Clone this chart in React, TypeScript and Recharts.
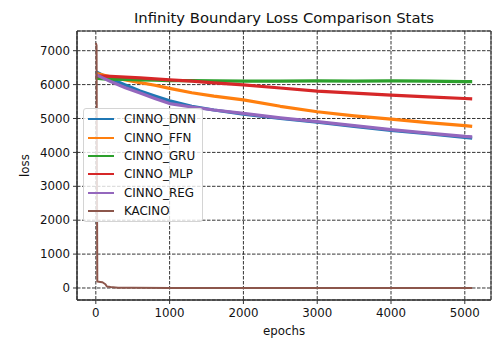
import { LineChart, Line, XAxis, YAxis, CartesianGrid, ReferenceArea, Legend, Label } from 'recharts'

// shared sampling grid for the CINNO runs
const cinnoEpochs = [0, 100, 200, 400, 600, 800, 1000, 1300, 1600, 2000, 2500, 3000, 3500, 4000, 4500, 5000, 5100]

const dnnLoss = [6380, 6270, 6170, 5990, 5810, 5660, 5520, 5360, 5250, 5130, 5000, 4890, 4770, 4650, 4550, 4440, 4420]
const ffnLoss = [6330, 6280, 6230, 6140, 6060, 5980, 5890, 5760, 5660, 5550, 5360, 5200, 5080, 4980, 4880, 4790, 4770]
const gruLoss = [6190, 6170, 6160, 6150, 6140, 6130, 6120, 6115, 6110, 6100, 6100, 6110, 6100, 6110, 6100, 6090, 6090]
const mlpLoss = [6260, 6250, 6240, 6220, 6200, 6170, 6140, 6100, 6050, 5990, 5900, 5810, 5750, 5690, 5640, 5590, 5580]
const regLoss = [6300, 6190, 6090, 5910, 5750, 5590, 5440, 5340, 5250, 5150, 5020, 4910, 4790, 4670, 4570, 4470, 4460]

// KACINO collapses almost immediately, so it gets a denser grid at the start
const kacinoEpochs = [0, 10, 20, 60, 90, 110, 130, 150, 200, 300, 500, 1000, 2000, 3000, 4000, 5000, 5100]
const kacinoLoss = [7230, 7150, 190, 180, 170, 140, 110, 45, 30, 10, 5, 3, 2, 2, 2, 2, 2]

const xTicks = [0, 1000, 2000, 3000, 4000, 5000]
const yTicks = [0, 1000, 2000, 3000, 4000, 5000, 6000, 7000]

const X_DOMAIN: [number, number] = [-255, 5355]
const Y_DOMAIN: [number, number] = [-354, 7581]

const FONT = '"DejaVu Sans", sans-serif'

const series = [
  { name: 'CINNO_DNN', color: '#1f77b4', epochs: cinnoEpochs, loss: dnnLoss, width: 3.2 },
  { name: 'CINNO_FFN', color: '#ff7f0e', epochs: cinnoEpochs, loss: ffnLoss, width: 3.2 },
  { name: 'CINNO_GRU', color: '#2ca02c', epochs: cinnoEpochs, loss: gruLoss, width: 3.2 },
  { name: 'CINNO_MLP', color: '#d62728', epochs: cinnoEpochs, loss: mlpLoss, width: 3.2 },
  { name: 'CINNO_REG', color: '#9467bd', epochs: cinnoEpochs, loss: regLoss, width: 3.2 },
  { name: 'KACINO', color: '#8c564b', epochs: kacinoEpochs, loss: kacinoLoss, width: 2 },
]

function LegendBox() {
  return (
    <div
      style={{
        width: 120,
        height: 114,
        boxSizing: 'border-box',
        border: '1px solid #d4d4d4',
        borderRadius: 3,
        background: 'rgba(255,255,255,0.8)',
        padding: '1px 0 0 4px',
        fontFamily: FONT,
      }}
    >
      {series.map((s) => (
        <div key={s.name} style={{ display: 'flex', alignItems: 'center', height: 18.4 }}>
          <span style={{ width: 26, height: 2, background: s.color, marginRight: 10, flex: 'none' }} />
          <span style={{ fontSize: 11.9, color: '#111', whiteSpace: 'nowrap' }}>{s.name}</span>
        </div>
      ))}
    </div>
  )
}

export default function App() {
  return (
    <div style={{ position: 'absolute', left: 0, top: 0, width: 492, height: 340, background: '#fff', fontFamily: FONT }}>
      <div
        style={{
          position: 'absolute',
          left: 77,
          width: 414,
          top: 8,
          textAlign: 'center',
          fontSize: 14.8,
          lineHeight: '20px',
          color: '#111',
          zIndex: 1,
        }}
      >
        Infinity Boundary Loss Comparison Stats
      </div>
      <LineChart width={492} height={340} margin={{ top: 31, right: 1, bottom: 0, left: 0 }}>
        <CartesianGrid stroke="#000" strokeWidth={0.8} strokeDasharray="3.5 1.5" />
        <XAxis
          type="number"
          dataKey="epoch"
          domain={X_DOMAIN}
          ticks={xTicks}
          allowDataOverflow
          height={40}
          tickSize={4}
          tickMargin={5}
          stroke="#333"
          tick={{ fill: '#111', fontSize: 11.8, fontFamily: FONT }}
        >
          <Label
            content={() => (
              <text x={284} y={335} textAnchor="middle" fill="#111" fontSize={11.8} fontFamily={FONT}>
                epochs
              </text>
            )}
          />
        </XAxis>
        <YAxis
          type="number"
          domain={Y_DOMAIN}
          ticks={yTicks}
          allowDataOverflow
          width={77}
          tickSize={4}
          tickMargin={3}
          stroke="#333"
          tick={{ fill: '#111', fontSize: 11.8, fontFamily: FONT }}
        >
          <Label
            content={() => (
              <text
                x={29}
                y={165.5}
                transform="rotate(-90 29 165.5)"
                textAnchor="middle"
                fill="#111"
                fontSize={11.8}
                fontFamily={FONT}
              >
                loss
              </text>
            )}
          />
        </YAxis>
        {series.map((s) => (
          <Line
            key={s.name}
            name={s.name}
            data={s.epochs.map((e, i) => ({ epoch: e, loss: s.loss[i] }))}
            dataKey="loss"
            type="linear"
            stroke={s.color}
            strokeWidth={s.width}
            strokeLinejoin="round"
            dot={false}
            activeDot={false}
            isAnimationActive={false}
          />
        ))}
        <ReferenceArea
          x1={X_DOMAIN[0]}
          x2={X_DOMAIN[1]}
          y1={Y_DOMAIN[0]}
          y2={Y_DOMAIN[1]}
          fill="none"
          stroke="#333"
          strokeWidth={1}
        />
        <Legend
          layout="horizontal"
          align="center"
          verticalAlign="middle"
          wrapperStyle={{ left: 83, top: 108, width: 120, height: 114 }}
          content={() => <LegendBox />}
        />
      </LineChart>
    </div>
  )
}
